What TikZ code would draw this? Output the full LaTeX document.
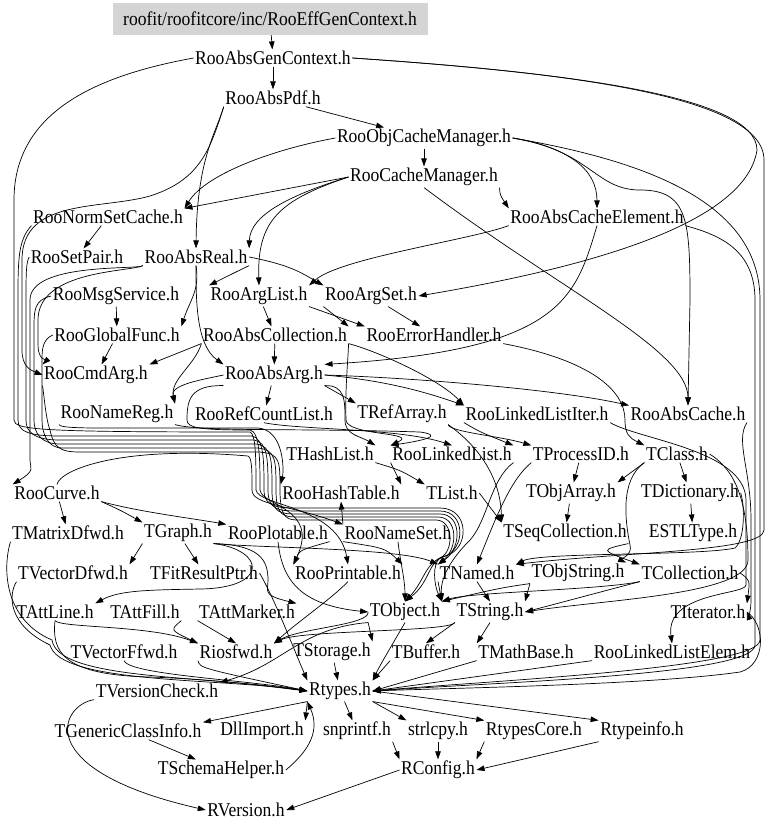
\documentclass[tikz,border=0pt]{standalone}
\usepackage{fontspec}
\setmainfont{Liberation Serif}[FakeStretch=0.9]
\usetikzlibrary{arrows.meta}

\tikzset{
  hdr/.style={font=\fontsize{19.5}{22}\selectfont, inner sep=1.5pt},
  rootfile/.style={hdr, fill=black!17, minimum width=315pt, minimum height=32pt},
  dep/.style={-{Triangle[length=8pt,width=5.5pt]}, line width=0.7pt},
}

\begin{document}
\begin{tikzpicture}[x=1pt,y=-1pt]
  \useasboundingbox (0,0) rectangle (768,831);

  % files, one row of the graph after the other
  \node[rootfile] (root) at (270,19) {roofit/roofitcore/inc/RooEffGenContext.h};
  \node[hdr] (absgen) at (273,58) {RooAbsGenContext.h};
  \node[hdr] (abspdf) at (273,98) {RooAbsPdf.h};
  \node[hdr] (objcm) at (424,138) {RooObjCacheManager.h};
  \node[hdr] (cachemgr) at (424,177) {RooCacheManager.h};
  \node[hdr] (normset) at (108,217) {RooNormSetCache.h};
  \node[hdr] (cacheelem) at (597,217) {RooAbsCacheElement.h};
  \node[hdr] (setpair) at (77,257) {RooSetPair.h};
  \node[hdr] (absreal) at (196,257) {RooAbsReal.h};
  \node[hdr] (msgsvc) at (116,296) {RooMsgService.h};
  \node[hdr] (arglist) at (259,296) {RooArgList.h};
  \node[hdr] (argset) at (371,296) {RooArgSet.h};
  \node[hdr] (globfunc) at (117,335) {RooGlobalFunc.h};
  \node[hdr] (abscoll) at (275,335) {RooAbsCollection.h};
  \node[hdr] (errhandler) at (434,335) {RooErrorHandler.h};
  \node[hdr] (cmdarg) at (96,375) {RooCmdArg.h};
  \node[hdr] (absarg) at (274,375) {RooAbsArg.h};
  \node[hdr] (namereg) at (117,414) {RooNameReg.h};
  \node[hdr] (refcount) at (264,414) {RooRefCountList.h};
  \node[hdr] (trefarray) at (402,414) {TRefArray.h};
  \node[hdr] (lliter) at (537,414) {RooLinkedListIter.h};
  \node[hdr] (abscache) at (688,414) {RooAbsCache.h};
  \node[hdr] (thashlist) at (330,454) {THashList.h};
  \node[hdr] (linkedlist) at (452,454) {RooLinkedList.h};
  \node[hdr] (tprocessid) at (581,454) {TProcessID.h};
  \node[hdr] (tclass) at (677,454) {TClass.h};
  \node[hdr] (curve) at (57,493) {RooCurve.h};
  \node[hdr] (hashtable) at (341,493) {RooHashTable.h};
  \node[hdr] (tlist) at (452,493) {TList.h};
  \node[hdr] (tobjarray) at (571,493) {TObjArray.h};
  \node[hdr] (tdict) at (690,493) {TDictionary.h};
  \node[hdr] (tmatrixd) at (68,533) {TMatrixDfwd.h};
  \node[hdr] (tgraph) at (178,533) {TGraph.h};
  \node[hdr] (plotable) at (278,533) {RooPlotable.h};
  \node[hdr] (nameset) at (398,533) {RooNameSet.h};
  \node[hdr] (tseqcoll) at (565,533) {TSeqCollection.h};
  \node[hdr] (estl) at (693,533) {ESTLType.h};
  \node[hdr] (tvectord) at (73,573) {TVectorDfwd.h};
  \node[hdr] (tfitres) at (204,573) {TFitResultPtr.h};
  \node[hdr] (printable) at (348,573) {RooPrintable.h};
  \node[hdr] (tnamed) at (477,573) {TNamed.h};
  \node[hdr] (tobjstring) at (578,573) {TObjString.h};
  \node[hdr] (tcollection) at (690,573) {TCollection.h};
  \node[hdr] (tattline) at (55,612) {TAttLine.h};
  \node[hdr] (tattfill) at (145,612) {TAttFill.h};
  \node[hdr] (tattmarker) at (247,612) {TAttMarker.h};
  \node[hdr] (tobject) at (405,612) {TObject.h};
  \node[hdr] (tstring) at (490,612) {TString.h};
  \node[hdr] (titerator) at (708,612) {TIterator.h};
  \node[hdr] (tvectorf) at (124,652) {TVectorFfwd.h};
  \node[hdr] (riosfwd) at (236,652) {Riosfwd.h};
  \node[hdr] (tstorage) at (332,652) {TStorage.h};
  \node[hdr] (tbuffer) at (426,652) {TBuffer.h};
  \node[hdr] (tmathbase) at (526,652) {TMathBase.h};
  \node[hdr] (llelem) at (672,652) {RooLinkedListElem.h};
  \node[hdr] (tversion) at (157,691) {TVersionCheck.h};
  \node[hdr] (rtypes) at (340,691) {Rtypes.h};
  \node[hdr] (tgeneric) at (128,731) {TGenericClassInfo.h};
  \node[hdr] (dllimport) at (262,731) {DllImport.h};
  \node[hdr] (snprintf) at (357,731) {snprintf.h};
  \node[hdr] (strlcpy) at (438,731) {strlcpy.h};
  \node[hdr] (rtypescore) at (534,731) {RtypesCore.h};
  \node[hdr] (rtypeinfo) at (642,731) {Rtypeinfo.h};
  \node[hdr] (tschema) at (221,770) {TSchemaHelper.h};
  \node[hdr] (rconfig) at (438,770) {RConfig.h};
  \node[hdr] (rversion) at (246,810) {RVersion.h};

  % top of the graph
  \draw[dep] (root) -- (absgen);
  \draw[dep] (absgen) -- (abspdf);
  \draw[dep] (absgen.east) .. controls (560,72) and (757,95) .. (757,150) .. controls (745,230) and (560,272) .. (argset.east);
  \draw[dep] (absgen.east) .. controls (560,72) and (764,95) .. (764,160) -- (764,530) .. controls (764,552) and (620,552) .. (tnamed.north east);
  \draw[dep] (absgen.west) .. controls (100,75) and (14,110) .. (14,200) -- (14,420) .. controls (14,430) and (40,432) .. (250,432) .. controls (256,434) and (256,460) .. (256,490) .. controls (258,506) and (338,506) .. (printable.north);
  \draw[dep] (abspdf) -- (objcm);
  \draw[dep] (abspdf.south west) .. controls (215,135) and (197,160) .. (absreal.north);
  \draw[dep] (abspdf.south west) .. controls (210,150) and (200,180) .. (150,196) .. controls (100,210) and (22,198) .. (22,260) -- (22,350) .. controls (22,366) and (30,370) .. (cmdarg.west);
  \draw[dep] (objcm) -- (cachemgr);
  \draw[dep] (objcm.west) .. controls (270,150) and (205,175) .. (normset.north east);
  \draw[dep] (objcm.east) .. controls (570,148) and (597,170) .. (cacheelem.north);
  \draw[dep] (objcm.east) .. controls (590,150) and (595,190) .. (640,190) .. controls (688,190) and (690,220) .. (690,300) -- (abscache.north);
  \draw[dep] (objcm.east) .. controls (640,160) and (760,200) .. (760,300) -- (760,640) .. controls (760,668) and (500,680) .. (rtypes.east);
  \draw[dep] (cachemgr.west) -- (normset.north east);
  \draw[dep] (cachemgr.west) .. controls (290,195) and (250,215) .. (absreal.north east);
  \draw[dep] (cachemgr.west) .. controls (280,200) and (257,220) .. (arglist.north);
  \draw[dep] (cachemgr.south east) .. controls (500,195) .. (cacheelem.north west);
  \draw[dep] (cachemgr.south) .. controls (560,290) and (688,350) .. (abscache.north);
  \draw[dep] (cacheelem.south east) .. controls (720,235) and (755,250) .. (755,300) -- (755,645) .. controls (755,675) and (500,682) .. (rtypes.east);
  \draw[dep] (cacheelem.south west) .. controls (470,240) and (340,258) .. (arglist.north east);
  \draw[dep] (cacheelem.south) .. controls (575,300) and (560,350) .. (absarg.north east);
  \draw[dep] (normset) -- (setpair);

  % RooAbsReal and the collections
  \draw[dep] (absreal.east) .. controls (290,265) and (300,272) .. (argset.north west);
  \draw[dep] (absreal.south east) .. controls (240,270) .. (arglist.north west);
  \draw[dep] (absreal.south) .. controls (196,300) and (196,345) .. (absarg.north west);
  \draw[dep] (absreal.south) .. controls (200,290) and (190,300) .. (globfunc.north east);
  \draw[dep] (absreal.south west) .. controls (140,270) and (30,262) .. (30,300) -- (30,460) .. controls (30,468) and (36,470) .. (curve.north west);
  \draw[dep] (absreal.south west) .. controls (130,272) and (38,270) .. (38,320) -- (38,345) .. controls (38,358) and (45,362) .. (cmdarg.north west);
  \draw[dep] (msgsvc) -- (globfunc);
  \draw[dep] (arglist) -- (abscoll);
  \draw[dep] (arglist.south east) -- (errhandler.north west);
  \draw[dep] (argset.south west) -- (abscoll.north east);
  \draw[dep] (argset) -- (errhandler);
  \draw[dep] (globfunc) -- (cmdarg);
  \draw[dep] (abscoll.south west) -- (cmdarg.north east);
  \draw[dep] (abscoll) -- (absarg);
  \draw[dep] (abscoll.south west) .. controls (195,365) and (170,380) .. (namereg.north east);
  \draw[dep] (abscoll.south east) .. controls (348,360) and (345,390) .. (346,420) .. controls (347,436) and (420,432) .. (linkedlist.north west);
  \draw[dep] (abscoll.south east) .. controls (380,352) and (440,380) .. (lliter.north west);
  \draw[dep] (errhandler.south east) .. controls (590,360) and (625,390) .. (625,420) .. controls (625,435) and (630,438) .. (tclass.north west);

  % RooAbsArg
  \draw[dep] (absarg.west) .. controls (200,380) and (170,385) .. (namereg.north east);
  \draw[dep] (absarg) -- (refcount);
  \draw[dep] (absarg.south east) -- (trefarray.north west);
  \draw[dep] (absarg.east) .. controls (380,380) and (420,390) .. (lliter.north west);
  \draw[dep] (absarg.east) .. controls (420,378) and (560,390) .. (abscache.north west);
  \draw[dep] (absarg.south east) .. controls (345,385) and (345,400) .. (345,420) .. controls (345,435) and (360,436) .. (thashlist.north east);
  \draw[dep] (absarg.south west) .. controls (190,385) and (187,400) .. (187,420) .. controls (187,428) and (200,430) .. (250,430) .. controls (260,432) and (260,460) .. (260,490) .. controls (262,506) and (320,508) .. (printable.north west);

  % the bundle along the left side
  \draw[dep] (normset.south west) .. controls (18,240) and (18,260) .. (18,300) -- (18,420) .. controls (18,432) and (30,436) .. (60,436) -- (252,436) .. controls (264,438) and (264,460) .. (264,490) .. controls (264,508) and (280,508) .. (300,508) -- (440,508) .. controls (470,508) and (470,550) .. (445,556) .. controls (425,562) and (425,580) .. (tobject.north);
  \draw[dep] (setpair.west) .. controls (26,262) and (26,275) .. (26,300) -- (26,420) .. controls (26,432) and (34,440) .. (60,440) -- (254,440) .. controls (268,442) and (268,460) .. (268,490) .. controls (268,511) and (280,511) .. (300,511) -- (440,511) .. controls (466,511) and (466,550) .. (443,557) .. controls (428,562) and (430,582) .. (tobject.north);
  \draw[dep] (msgsvc.west) .. controls (34,300) and (34,310) .. (34,330) -- (34,420) .. controls (34,432) and (40,444) .. (60,444) -- (256,444) .. controls (272,446) and (272,460) .. (272,490) .. controls (272,514) and (280,514) .. (300,514) -- (440,514) .. controls (462,514) and (462,548) .. (tnamed.north west);
  \draw[dep] (globfunc.west) .. controls (42,340) and (42,350) .. (42,362) -- (42,420) .. controls (42,434) and (48,448) .. (62,448) -- (258,448) .. controls (276,450) and (276,460) .. (276,490) .. controls (276,517) and (284,517) .. (300,517) -- (438,517) .. controls (458,517) and (458,548) .. (tnamed.north west);
  \draw[dep] (cmdarg.south west) .. controls (44,395) and (46,420) .. (50,430) .. controls (54,448) and (60,452) .. (80,452) -- (260,452) .. controls (280,454) and (280,460) .. (280,490) .. controls (280,520) and (288,520) .. (300,520) -- (436,520) .. controls (454,520) and (454,552) .. (440,558) .. controls (432,564) and (434,585) .. (tobject.north east);
  \draw[dep] (namereg.south west) .. controls (60,426) and (62,428) .. (100,428) -- (258,428) .. controls (284,430) and (284,470) .. (hashtable.north west);
  \draw[dep] (namereg.south east) .. controls (200,432) and (300,428) .. (420,432) .. controls (435,434) and (440,438) .. (linkedlist.north west);
  \draw[dep] (refcount.south) .. controls (300,430) and (400,428) .. (linkedlist.north);
  \draw[dep] (curve.north) .. controls (60,470) and (120,445) .. (248,456) .. controls (252,458) and (252,470) .. (252,490) .. controls (252,505) and (290,505) .. (nameset.north west);

  % middle rows
  \draw[dep] (trefarray.south east) .. controls (470,440) and (500,470) .. (tseqcoll.north west);
  \draw[dep] (trefarray.south east) .. controls (450,432) and (500,436) .. (tprocessid.north west);
  \draw[dep] (lliter.south west) .. controls (480,432) .. (linkedlist.north east);
  \draw[dep] (lliter.south east) .. controls (640,440) and (745,450) .. (746,500) -- (746,585) .. controls (746,595) and (665,592) .. (llelem.north);
  \draw[dep] (abscache.south east) .. controls (735,440) and (751,470) .. (751,520) -- (751,600) .. controls (751,612) and (748,615) .. (titerator.east);
  \draw[dep] (thashlist.south east) .. controls (400,470) .. (tlist.north west);
  \draw[dep] (linkedlist.south west) -- (hashtable.north east);
  \draw[dep] (linkedlist.south east) .. controls (490,480) and (488,520) .. (470,540) .. controls (455,555) and (440,575) .. (tobject.north east);
  \draw[dep] (tprocessid) -- (tobjarray);
  \draw[dep] (tprocessid.south west) .. controls (510,480) and (495,520) .. (tnamed.north);
  \draw[dep] (tclass.south west) -- (tobjarray.north east);
  \draw[dep] (tclass) -- (tdict);
  \draw[dep] (tclass.east) .. controls (735,470) and (748,500) .. (748,560) .. controls (748,595) and (600,600) .. (tstring.east);
  \draw[dep] (tclass.south west) .. controls (620,480) and (625,520) .. (630,545) .. controls (633,555) and (620,560) .. (tobjstring.north east);
  \draw[dep] (tdict) -- (estl);
  \draw[dep] (tdict.east) .. controls (745,505) and (745,540) .. (735,548) .. controls (700,556) and (540,552) .. (tnamed.north east);
  \draw[dep] (tlist.east) -- (tseqcoll.north west);
  \draw[dep] (tobjarray) -- (tseqcoll);
  \draw[dep] (tseqcoll.south east) .. controls (600,550) .. (tcollection.north west);
  \draw[dep] (nameset.north west) -- (hashtable.south);

  % RooCurve and TGraph
  \draw[dep] (curve) -- (tmatrixd);
  \draw[dep] (curve.south east) .. controls (120,510) .. (tgraph.north west);
  \draw[dep] (curve.south east) .. controls (140,512) and (190,518) .. (plotable.north west);
  \draw[dep] (tgraph.south west) -- (tvectord.north east);
  \draw[dep] (tgraph) -- (tfitres);
  \draw[dep] (tgraph.south east) .. controls (260,545) and (268,560) .. (268,580) .. controls (268,592) and (262,595) .. (tattmarker.north east);
  \draw[dep] (tgraph.south east) .. controls (265,550) and (270,588) .. (200,589) .. controls (150,590) and (120,590) .. (tattline.north east);
  \draw[dep] (tgraph.south east) .. controls (260,548) and (400,548) .. (tnamed.north west);
  \draw[dep] (plotable.south east) .. controls (300,550) .. (printable.north west);
  \draw[dep] (plotable.south) .. controls (282,580) and (300,605) .. (tobject.west);
  \draw[dep] (nameset.south west) .. controls (385,548) .. (printable.north east);
  \draw[dep] (nameset.south) .. controls (400,560) and (405,580) .. (tobject.north);

  % TObject, TString and friends
  \draw[dep] (printable.south) .. controls (330,600) and (300,620) .. (riosfwd.north east);
  \draw[dep] (tnamed.south west) -- (tobject.north east);
  \draw[dep] (tnamed.south) -- (tstring.north);
  \draw[dep] (tobjstring.south west) .. controls (500,588) .. (tobject.north east);
  \draw[dep] (tobjstring.south west) -- (tstring.north east);
  \draw[dep] (tcollection.south west) .. controls (600,590) and (470,592) .. (tobject.north east);
  \draw[dep] (tcollection.south west) -- (tstring.east);
  \draw[dep] (tcollection.east) .. controls (750,580) .. (titerator.north east);
  \draw[dep] (tobject.west) .. controls (370,625) and (300,628) .. (riosfwd.north east);
  \draw[dep] (tobject.south west) -- (tstorage.north east);
  \draw[dep] (tobject.south west) .. controls (300,628) and (283,665) .. (tversion.north east);
  \draw[dep] (tobject.south) .. controls (395,640) and (380,665) .. (rtypes.north east);
  \draw[dep] (tstring.south west) -- (tbuffer.north);
  \draw[dep] (tstring.south) -- (tmathbase.north west);
  \draw[dep] (tstring.south west) .. controls (450,632) and (300,630) .. (riosfwd.north east);
  \draw[dep] (tattline.south) .. controls (60,628) and (150,625) .. (riosfwd.north west);
  \draw[dep] (tattfill.south east) .. controls (170,630) .. (riosfwd.north west);
  \draw[dep] (tattmarker.south west) -- (riosfwd.north);
  \draw[dep] (tfitres.east) .. controls (275,600) and (290,640) .. (rtypes.north west);

  % into Rtypes.h
  \draw[dep] (tmatrixd.south west) .. controls (2,570) and (5,620) .. (52,640) .. controls (58,680) and (200,675) .. (rtypes.west);
  \draw[dep] (tvectord.south west) .. controls (8,595) and (8,625) .. (50,645) .. controls (60,684) and (220,678) .. (rtypes.west);
  \draw[dep] (tattline.south) .. controls (52,650) and (60,675) .. (150,677) .. controls (230,680) and (280,688) .. (rtypes.west);
  \draw[dep] (tvectorf.south) .. controls (130,675) and (250,680) .. (rtypes.west);
  \draw[dep] (riosfwd.south west) .. controls (200,668) .. (rtypes.west);
  \draw[dep] (tstorage) -- (rtypes);
  \draw[dep] (tbuffer.south west) -- (rtypes.north east);
  \draw[dep] (tmathbase.south west) -- (rtypes.east);
  \draw[dep] (llelem.south west) -- (rtypes.east);
  \draw[dep] (titerator.east) .. controls (766,625) and (766,665) .. (740,672) .. controls (650,685) and (450,688) .. (rtypes.east);

  % below Rtypes.h
  \draw[dep] (rtypes.south west) -- (tgeneric.north east);
  \draw[dep] (rtypes.south west) -- (dllimport.north east);
  \draw[dep] (rtypes) -- (snprintf);
  \draw[dep] (rtypes.south east) -- (strlcpy.north west);
  \draw[dep] (rtypes.south east) -- (rtypescore.north west);
  \draw[dep] (rtypes.east) -- (rtypeinfo.north west);
  \draw[dep] (tschema.east) .. controls (310,750) and (320,730) .. (rtypes.south west);
  \draw[dep] (tgeneric) -- (tschema);
  \draw[dep] (snprintf.south east) -- (rconfig.north west);
  \draw[dep] (strlcpy) -- (rconfig);
  \draw[dep] (rtypescore.south west) -- (rconfig.north east);
  \draw[dep] (rtypeinfo.south west) -- (rconfig.east);
  \draw[dep] (rconfig.west) -- (rversion.east);
  \draw[dep] (tversion.south west) .. controls (60,705) and (30,770) .. (rversion.west);
\end{tikzpicture}
\end{document}
